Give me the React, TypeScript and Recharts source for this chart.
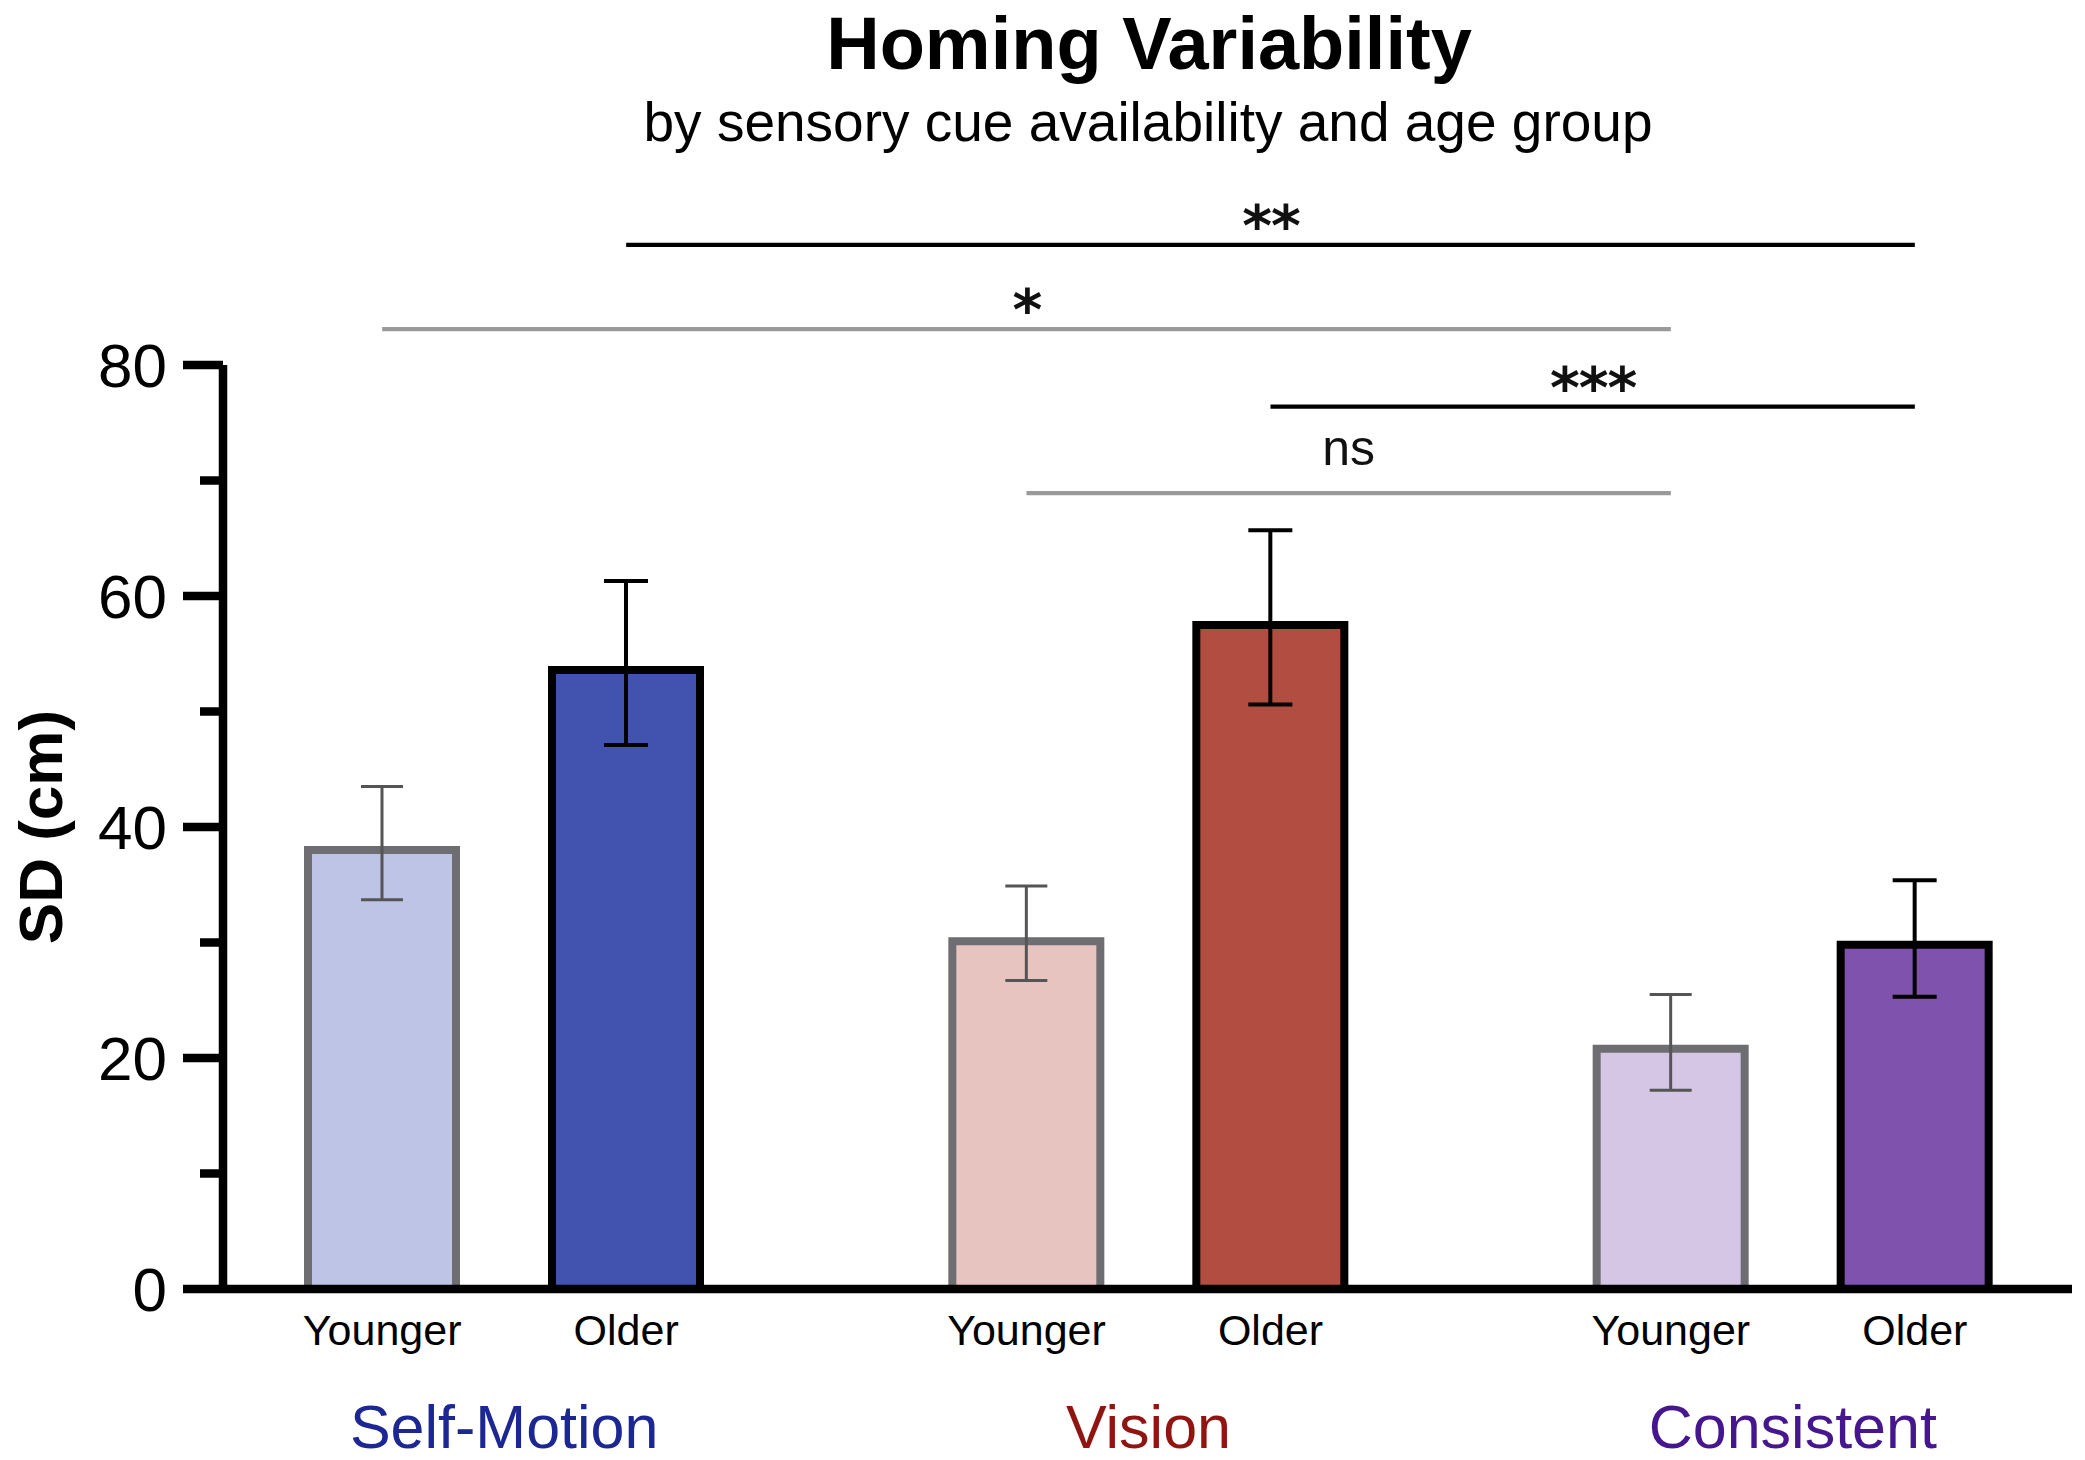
import React from 'react';
import { BarChart, Bar, XAxis, YAxis, Cell, ErrorBar, ReferenceLine } from 'recharts';

// values (cm)
const groups = ['Self-Motion', 'Vision', 'Consistent'];
const youngerSD = [38.0, 30.1, 20.8];
const olderSD = [53.6, 57.5, 29.8];
const youngerLow = [33.7, 26.7, 17.2];
const youngerHigh = [43.5, 34.9, 25.5];
const olderLow = [47.1, 50.6, 25.3];
const olderHigh = [61.3, 65.7, 35.4];
const yTicks = [0, 10, 20, 30, 40, 50, 60, 70, 80];

// significance brackets
const sigText = ['**', '*', '***', 'ns'];
const sigLevel = [90.4, 83.1, 76.4, 68.9];
const sigStartGroup = ['Self-Motion', 'Self-Motion', 'Vision', 'Vision'];
const sigStartAge = ['Older', 'Younger', 'Older', 'Younger'];
const sigEndGroup = ['Consistent', 'Consistent', 'Consistent', 'Consistent'];
const sigEndAge = ['Older', 'Younger', 'Older', 'Younger'];

const FONT = '"Liberation Sans", Arial, sans-serif';
const YOUNG_FILL = ['#bec4e6', '#e8c4c0', '#d6c6e6'];
const OLD_FILL = ['#4153ae', '#b14e41', '#7f53ad'];
const GROUP_COLOR = ['#1c2794', '#901510', '#46168f'];
const SIG_STROKE = ['#000', '#9a9a9a', '#000', '#9a9a9a'];
const BAR_SIZE = 148;
const BAR_GAP = 96;
const HALF_STEP = (BAR_SIZE + BAR_GAP) / 2;
const AXIS_W = 8.5;

const data = groups.map((g, i) => ({
  group: g,
  younger: youngerSD[i],
  older: olderSD[i],
  youngerErr: [youngerSD[i] - youngerLow[i], youngerHigh[i] - youngerSD[i]],
  olderErr: [olderSD[i] - olderLow[i], olderHigh[i] - olderSD[i]],
}));

const ageOffset = (age: string) => (age === 'Younger' ? -HALF_STEP : HALF_STEP);

function bracket(i: number) {
  return (p: any) => {
    const x1 = p.x1 + ageOffset(sigStartAge[i]);
    const x2 = p.x2 + ageOffset(sigEndAge[i]);
    const star = sigText[i] !== 'ns';
    return (
      <g>
        <line x1={x1} y1={p.y1} x2={x2} y2={p.y2} stroke={SIG_STROKE[i]} strokeWidth={4.3} />
        <text
          x={(x1 + x2) / 2 + (star ? 0.5 : 0)}
          y={p.y1 + (star ? 1 : -28)}
          textAnchor="middle"
          fontFamily={star ? '"DejaVu Sans", sans-serif' : FONT}
          fontWeight={star ? 700 : 400}
          fontSize={star ? 57 : 50}
          letterSpacing={star ? -1 : 0}
          fill="#111"
        >
          {sigText[i]}
        </text>
      </g>
    );
  };
}

const YTick = (props: any) => {
  const { x, y, payload } = props;
  const major = payload.value % 20 === 0;
  return (
    <g>
      <line x1={x} x2={x - (major ? 40 : 23)} y1={y} y2={y} stroke="#000" strokeWidth={AXIS_W} />
      {major && (
        <text x={x - 56} y={y} dy="0.36em" textAnchor="end" fontFamily={FONT} fontSize={62} fill="#000">
          {payload.value}
        </text>
      )}
    </g>
  );
};

const XTick = (props: any) => {
  const { x, y, payload } = props;
  const idx = groups.indexOf(payload.value);
  return (
    <g fontFamily={FONT}>
      <text x={x - HALF_STEP} y={y + 56} textAnchor="middle" fontSize={43} fill="#000">Younger</text>
      <text x={x + HALF_STEP} y={y + 56} textAnchor="middle" fontSize={43} fill="#000">Older</text>
      <text x={x} y={y + 159} textAnchor="middle" fontSize={61} fill={GROUP_COLOR[idx]}>
        {payload.value}
      </text>
    </g>
  );
};

const YLabel = (props: any) => {
  const vb = props.viewBox || { x: 8, y: 364, height: 925 };
  const cx = vb.x + 32;
  const cy = vb.y + vb.height / 2;
  return (
    <text
      transform={`translate(${cx}, ${cy}) rotate(-90)`}
      textAnchor="middle"
      dominantBaseline="central"
      fontFamily={FONT}
      fontWeight={700}
      fontSize={62}
      fill="#000"
    >
      SD (cm)
    </text>
  );
};

export default function App() {
  return (
    <div style={{ position: 'absolute', left: 0, top: 0, width: 2085, height: 1460, background: '#fff' }}>
      <svg width={2085} height={170} style={{ position: 'absolute', left: 0, top: 0 }}>
        <text x={1149} y={69} textAnchor="middle" fontFamily={FONT} fontWeight={700} fontSize={74} fill="#000">
          Homing Variability
        </text>
        <text x={1148} y={141} textAnchor="middle" fontFamily={FONT} fontSize={55} fill="#000">
          by sensory cue availability and age group
        </text>
      </svg>
      <BarChart
        width={2085}
        height={1460}
        data={data}
        margin={{ top: 365, right: 13, bottom: 0, left: 8 }}
        barSize={BAR_SIZE}
        barGap={BAR_GAP}
        style={{ position: 'absolute', left: 0, top: 0 }}
      >
        <XAxis
          dataKey="group"
          height={171}
          padding={{ left: -41, right: -43 }}
          axisLine={{ stroke: '#000', strokeWidth: AXIS_W }}
          tickLine={false}
          tickSize={0}
          tickMargin={0}
          interval={0}
          tick={<XTick />}
        />
        <YAxis
          width={215}
          domain={[0, 80]}
          ticks={yTicks}
          interval={0}
          axisLine={{ stroke: '#000', strokeWidth: AXIS_W }}
          tickLine={false}
          tickSize={0}
          tickMargin={0}
          tick={<YTick />}
          label={{ content: <YLabel /> }}
        />
        <Bar dataKey="younger" stroke="#6e6e72" strokeWidth={8} isAnimationActive={false}>
          {data.map((d, i) => (
            <Cell key={d.group} fill={YOUNG_FILL[i]} />
          ))}
          <ErrorBar dataKey="youngerErr" direction="y" width={21} stroke="#555" strokeWidth={3} />
        </Bar>
        <Bar dataKey="older" stroke="#000" strokeWidth={8} isAnimationActive={false}>
          {data.map((d, i) => (
            <Cell key={d.group} fill={OLD_FILL[i]} />
          ))}
          <ErrorBar dataKey="olderErr" direction="y" width={22} stroke="#000" strokeWidth={4} />
        </Bar>
        {sigText.map((t, i) => (
          <ReferenceLine
            key={t}
            segment={[
              { x: sigStartGroup[i], y: sigLevel[i] },
              { x: sigEndGroup[i], y: sigLevel[i] },
            ]}
            ifOverflow="visible"
            shape={bracket(i)}
          />
        ))}
      </BarChart>
    </div>
  );
}
